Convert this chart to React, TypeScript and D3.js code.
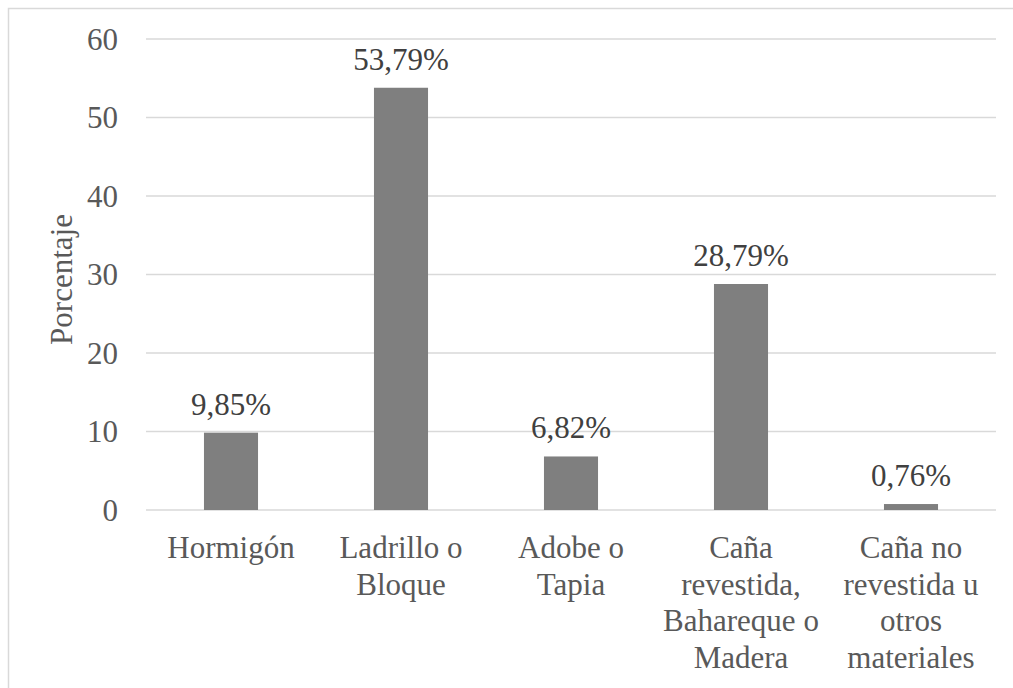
import React from "react";
import * as d3 from "d3";

const categories: string[][] = [
  ["Hormigón"],
  ["Ladrillo o", "Bloque"],
  ["Adobe o", "Tapia"],
  ["Caña", "revestida,", "Bahareque o", "Madera"],
  ["Caña no", "revestida u", "otros", "materiales"],
];
const values: number[] = [9.85, 53.79, 6.82, 28.79, 0.76];
const valueLabels: string[] = ["9,85%", "53,79%", "6,82%", "28,79%", "0,76%"];
const yTicks: number[] = [0, 10, 20, 30, 40, 50, 60];
const yTitle = "Porcentaje";

const W = 1013;
const H = 688;
const left = 146;
const right = 996;
const top = 39;
const bottom = 510;
const font = '"Liberation Serif"';
const textColor = "#595959";

export default function App() {
  const x = d3
    .scaleBand<number>()
    .domain(values.map((_, i) => i))
    .range([left, right])
    .paddingInner(0.682)
    .paddingOuter(0.341);
  const y = d3.scaleLinear().domain([0, 60]).range([bottom, top]);
  const fs = 31;
  const ts = { fontFamily: font, fontSize: fs };

  return (
    <svg width={W} height={H} style={{ position: "absolute", left: 0, top: 0, background: "#fff" }}>
      <rect x={8.5} y={8.5} width={W + 10} height={H + 10} fill="#fff" stroke="#d9d9d9" strokeWidth={1.5} />
      {yTicks.map((t) => (
        <g key={t}>
          <line x1={left} x2={right} y1={y(t)} y2={y(t)} stroke="#d9d9d9" strokeWidth={1.3} />
          <text x={118} y={y(t)} dy="0.35em" textAnchor="end" style={ts} fill={textColor}>
            {t}
          </text>
        </g>
      ))}
      {values.map((v, i) => (
        <g key={i}>
          <rect x={x(i)!} y={y(v)} width={x.bandwidth()} height={y(0) - y(v)} fill="#7f7f7f" />
          <text x={x(i)! + x.bandwidth() / 2} y={y(v) - 18} textAnchor="middle" style={ts} fill="#404040">
            {valueLabels[i]}
          </text>
          <text x={x(i)! + x.bandwidth() / 2} y={558} textAnchor="middle" style={ts} fill={textColor}>
            {categories[i].map((line, j) => (
              <tspan key={j} x={x(i)! + x.bandwidth() / 2} y={558 + j * 36.5}>
                {line}
              </tspan>
            ))}
          </text>
        </g>
      ))}
      <text
        transform={`translate(72,${(top + bottom) / 2 + 5}) rotate(-90)`}
        textAnchor="middle"
        style={ts}
        fill={textColor}
      >
        {yTitle}
      </text>
    </svg>
  );
}
